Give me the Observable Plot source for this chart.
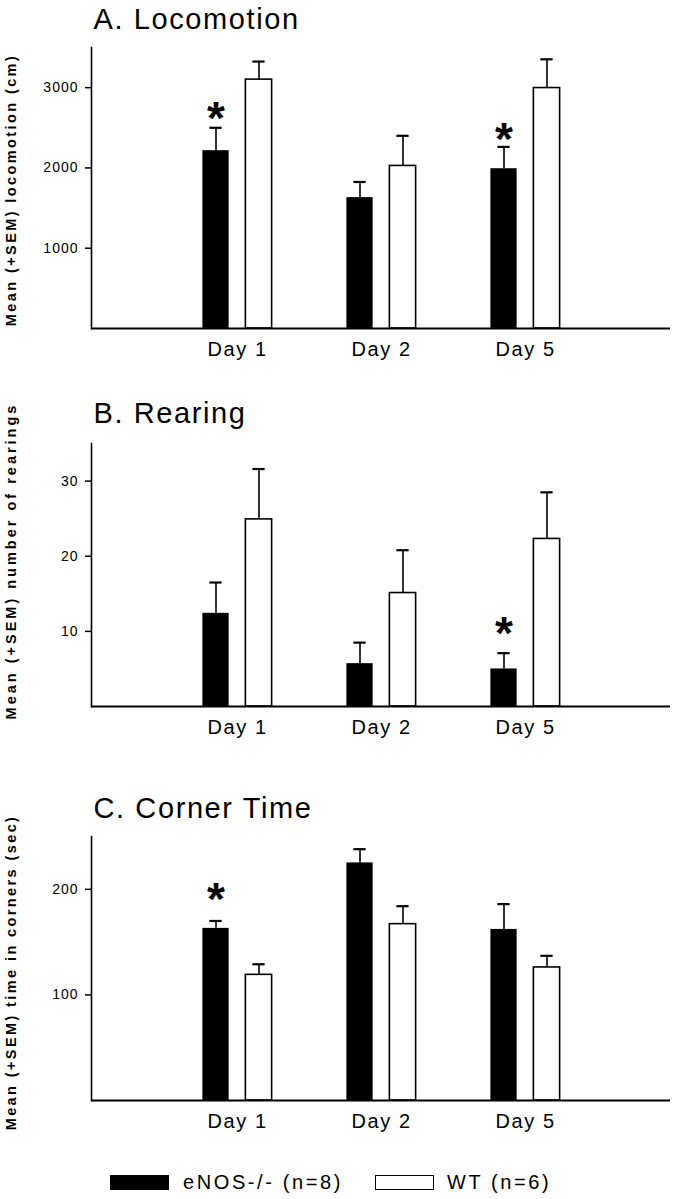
<!DOCTYPE html>
<html>
<head>
<meta charset="utf-8">
<script src="https://cdn.jsdelivr.net/npm/d3@7"></script>
<script src="https://cdn.jsdelivr.net/npm/@observablehq/plot@0.6"></script>
<style>
  html, body { margin: 0; padding: 0; background: white; }
  #wrap { width: 673px; height: 1199px; position: relative; font-family: "Liberation Sans", Arial, sans-serif; }
  #wrap svg { display: block; }
  .leg { position: absolute; font-size: 20px; line-height: 20px; color: black; white-space: nowrap; letter-spacing: 2.6px; }
  .sw { position: absolute; box-sizing: border-box; border: 1.5px solid black; }
</style>
</head>
<body>
<div id="wrap"></div>
<script>
const days = ["Day 1", "Day 2", "Day 5"];
const groups = ["eNOS-/- (n=8)", "WT (n=6)"];

// Panel A: Locomotion (cm)
const locoEnos = [2215, 1630, 1990];
const locoEnosSem = [285, 195, 272];
const locoWt = [3100, 2025, 2995];
const locoWtSem = [225, 375, 358];
const locoTicks = [1000, 2000, 3000];
const locoStars = [{day: "Day 1", y: 2710}, {day: "Day 5", y: 2446}];

// Panel B: Rearing (count)
const rearEnos = [12.4, 5.7, 5.0];
const rearEnosSem = [4.1, 2.8, 2.1];
const rearWt = [24.9, 15.1, 22.3];
const rearWtSem = [6.7, 5.7, 6.2];
const rearTicks = [10, 20, 30];
const rearStars = [{day: "Day 5", y: 10.7}];

// Panel C: Corner time (sec)
const cornEnos = [163, 225, 162];
const cornEnosSem = [7, 13, 24];
const cornWt = [119, 167, 126];
const cornWtSem = [10, 17, 11];
const cornTicks = [100, 200];
const cornStars = [{day: "Day 1", y: 197}];

const titles = ["A. Locomotion", "B. Rearing", "C. Corner Time"];
const ylabels = ["Mean (+SEM) locomotion (cm)", "Mean (+SEM) number of rearings", "Mean (+SEM) time in corners (sec)"];

const FONT = "'Liberation Sans', Arial, sans-serif";

function rows(enos, enosSem, wt, wtSem) {
  const out = [];
  days.forEach((d, i) => {
    out.push({day: d, group: groups[0], mean: enos[i], top: enos[i] + enosSem[i]});
    out.push({day: d, group: groups[1], mean: wt[i], top: wt[i] + wtSem[i]});
  });
  return out;
}

function panel({title, ylabel, data, ymax, ticks, stars, height, marginTop, marginBottom, titleDy, labelDy, labelSpacing}) {
  const bw = 579 / 4;
  const barInset = (bw - 27) / 2;
  const capInset = (bw - 13) / 2;
  const off = 21.5;
  const e = data.filter(d => d.group === groups[0]);
  const w = data.filter(d => d.group === groups[1]);
  const svg = Plot.plot({
    width: 673,
    height,
    marginLeft: 91,
    marginRight: 3,
    marginTop,
    marginBottom,
    style: {fontFamily: FONT, color: "black", background: "white", overflow: "visible"},
    x: {domain: days, paddingInner: 0, paddingOuter: 0.5, label: null},
    y: {domain: [0, ymax], label: null},
    marks: [
      Plot.ruleX(e, {x: "day", y1: "mean", y2: "top", dx: -off, stroke: "black", strokeWidth: 1.6}),
      Plot.ruleX(w, {x: "day", y1: "mean", y2: "top", dx: off, stroke: "black", strokeWidth: 1.6}),
      Plot.tickY(e, {x: "day", y: "top", dx: -off, insetLeft: capInset, insetRight: capInset, stroke: "black", strokeWidth: 2.2}),
      Plot.tickY(w, {x: "day", y: "top", dx: off, insetLeft: capInset, insetRight: capInset, stroke: "black", strokeWidth: 2.2}),
      Plot.barY(e, {x: "day", y: "mean", dx: -off, insetLeft: barInset, insetRight: barInset, fill: "black"}),
      Plot.barY(w, {x: "day", y: "mean", dx: off, insetLeft: barInset, insetRight: barInset, fill: "white", stroke: "black", strokeWidth: 1.6}),
      Plot.text(stars, {x: "day", y: "y", text: () => "*", dx: -off, dy: 8, fontSize: 46, fontWeight: "bold", fill: "black", lineAnchor: "middle"}),
      Plot.ruleY([0], {stroke: "black", strokeWidth: 2}),
      Plot.frame({anchor: "left", stroke: "black", strokeWidth: 1.6}),
      Plot.axisY({ticks, tickSize: 6, tickPadding: 7, fontSize: 14, strokeWidth: 1.5, label: null, tickFormat: d => String(d)}),
      Plot.axisX({tickSize: 0, tickPadding: 13, fontSize: 20, label: null}),
      Plot.text([title], {frameAnchor: "top-left", textAnchor: "start", lineAnchor: "bottom", dx: 2, dy: titleDy, fontSize: 29, fill: "black"}),
      Plot.text([ylabel], {frameAnchor: "left", rotate: -90, dx: -80, dy: labelDy, fontSize: 14.5, fontWeight: "bold", fill: "black", lineAnchor: "middle", textAnchor: "middle"})
    ]
  });
  d3.select(svg).selectAll("text").each(function() {
    const t = this.textContent;
    let ls = null;
    if (titles.includes(t)) ls = "1.6px";
    else if (ylabels.includes(t)) ls = labelSpacing;
    else if (days.includes(t)) ls = "1.6px";
    else if (/^\d+$/.test(t)) ls = "1px";
    if (ls) this.style.letterSpacing = ls;
  });
  return svg;
}

const wrap = document.getElementById("wrap");
wrap.appendChild(panel({
  title: titles[0], ylabel: ylabels[0],
  data: rows(locoEnos, locoEnosSem, locoWt, locoWtSem), ymax: 3500, ticks: locoTicks, stars: locoStars,
  height: 375, marginTop: 47, marginBottom: 47, titleDy: -19, labelDy: 2, labelSpacing: "2.4px"
}));
wrap.appendChild(panel({
  title: titles[1], ylabel: ylabels[1],
  data: rows(rearEnos, rearEnosSem, rearWt, rearWtSem), ymax: 35, ticks: rearTicks, stars: rearStars,
  height: 377, marginTop: 68, marginBottom: 46, titleDy: -21, labelDy: -14, labelSpacing: "3px"
}));
wrap.appendChild(panel({
  title: titles[2], ylabel: ylabels[2],
  data: rows(cornEnos, cornEnosSem, cornWt, cornWtSem), ymax: 250, ticks: cornTicks, stars: cornStars,
  height: 388, marginTop: 84, marginBottom: 40, titleDy: -19, labelDy: 4, labelSpacing: "2.4px"
}));

// Legend
const legend = [
  {label: groups[0], fill: "black", x: 110, tx: 183},
  {label: groups[1], fill: "white", x: 375, tx: 447}
];
legend.forEach(l => {
  const sw = document.createElement("div");
  sw.className = "sw";
  Object.assign(sw.style, {left: l.x + "px", top: "1175px", width: "59px", height: "15px", background: l.fill});
  wrap.appendChild(sw);
  const t = document.createElement("div");
  t.className = "leg";
  t.textContent = l.label;
  Object.assign(t.style, {left: l.tx + "px", top: "1172px"});
  wrap.appendChild(t);
});
</script>
</body>
</html>
